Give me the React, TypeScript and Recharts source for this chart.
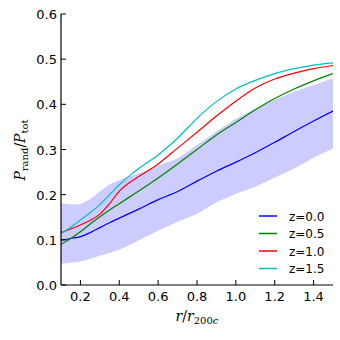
import { Area, ComposedChart, Line, XAxis, YAxis } from 'recharts';

// radius in units of r200c
const radii = [0.1, 0.15, 0.2, 0.25, 0.3, 0.35, 0.4, 0.45, 0.5, 0.6, 0.7, 0.8, 0.9, 1.0, 1.1, 1.2, 1.3, 1.4, 1.5];

const z00 = [0.099, 0.103, 0.107, 0.116, 0.127, 0.138, 0.148, 0.158, 0.168, 0.189, 0.207, 0.23, 0.252, 0.272, 0.293, 0.316, 0.34, 0.363, 0.385];
const z05 = [0.09, 0.103, 0.118, 0.135, 0.151, 0.166, 0.18, 0.194, 0.208, 0.237, 0.268, 0.3, 0.332, 0.36, 0.388, 0.413, 0.434, 0.452, 0.468];
const z10 = [0.116, 0.124, 0.133, 0.143, 0.157, 0.18, 0.208, 0.226, 0.24, 0.268, 0.303, 0.338, 0.374, 0.407, 0.436, 0.456, 0.469, 0.479, 0.486];
const z15 = [0.114, 0.128, 0.144, 0.16, 0.178, 0.2, 0.222, 0.241, 0.258, 0.288, 0.325, 0.369, 0.406, 0.434, 0.453, 0.468, 0.479, 0.487, 0.492];

// scatter band of the z=0 sample
const bandLow = [0.047, 0.049, 0.052, 0.058, 0.065, 0.071, 0.078, 0.088, 0.099, 0.12, 0.14, 0.157, 0.183, 0.202, 0.217, 0.238, 0.258, 0.282, 0.302];
const bandHigh = [0.181, 0.178, 0.179, 0.19, 0.207, 0.223, 0.232, 0.24, 0.247, 0.264, 0.28, 0.31, 0.34, 0.368, 0.39, 0.41, 0.428, 0.443, 0.458];

const xTicks = [0.2, 0.4, 0.6, 0.8, 1.0, 1.2, 1.4];
const yTicks = [0.0, 0.1, 0.2, 0.3, 0.4, 0.5, 0.6];

const series = [
  { key: 'z00', label: 'z=0.0', color: '#0000ff' },
  { key: 'z05', label: 'z=0.5', color: '#008000' },
  { key: 'z10', label: 'z=1.0', color: '#ff0000' },
  { key: 'z15', label: 'z=1.5', color: '#00bfbf' },
];

const data = radii.map((r, i) => ({
  r,
  z00: z00[i],
  z05: z05[i],
  z10: z10[i],
  z15: z15[i],
  band: [bandLow[i], bandHigh[i]],
}));

const sans = '"DejaVu Sans", sans-serif';
const serif = '"DejaVu Serif", serif';
const tickLen = 5;

const BottomTick = ({ x, y, payload }: any) => (
  <g>
    <line x1={x} x2={x} y1={y} y2={y - tickLen} stroke="#000" />
    <text x={x} y={y + 16} textAnchor="middle" fontSize={13} fontFamily={sans} fill="#000">
      {payload.value.toFixed(1)}
    </text>
  </g>
);

const TopTick = ({ x, y }: any) => <line x1={x} x2={x} y1={y} y2={y + tickLen} stroke="#000" />;

const LeftTick = ({ x, y, payload }: any) => (
  <g>
    <line x1={x} x2={x + tickLen} y1={y} y2={y} stroke="#000" />
    <text x={x - 4} y={y + 5} textAnchor="end" fontSize={13} fontFamily={sans} fill="#000">
      {payload.value.toFixed(1)}
    </text>
  </g>
);

const RightTick = ({ x, y }: any) => <line x1={x} x2={x - tickLen} y1={y} y2={y} stroke="#000" />;

const XLabel = () => (
  <text x={197} y={321} textAnchor="middle" fontSize={14} fontFamily={serif} fill="#000">
    <tspan fontStyle="italic">r</tspan>
    <tspan>/</tspan>
    <tspan fontStyle="italic">r</tspan>
    <tspan fontSize={10} dy={3}>200</tspan>
    <tspan fontSize={10} fontStyle="italic">c</tspan>
  </text>
);

const YLabel = () => (
  <text
    x={25}
    y={150}
    textAnchor="middle"
    fontSize={14}
    fontFamily={serif}
    fill="#000"
    transform="rotate(-90, 25, 150)"
  >
    <tspan fontStyle="italic">P</tspan>
    <tspan fontSize={10} dy={3}>rand</tspan>
    <tspan dy={-3}>/</tspan>
    <tspan fontStyle="italic">P</tspan>
    <tspan fontSize={10} dy={3}>tot</tspan>
  </text>
);

function App() {
  return (
    <div style={{ position: 'absolute', left: 0, top: 0, width: 340, height: 340, background: '#fff' }}>
      <ComposedChart width={340} height={340} data={data} margin={{ top: 14, right: 7, bottom: 0, left: 0 }}>
        <XAxis
          dataKey="r"
          type="number"
          domain={[0.1, 1.5]}
          ticks={xTicks}
          interval={0}
          height={55}
          allowDataOverflow
          tickSize={0}
          tickMargin={0}
          tickLine={false}
          tick={BottomTick}
          axisLine={{ stroke: '#000', strokeWidth: 1.2 }}
          label={XLabel}
        />
        <XAxis
          xAxisId="top"
          orientation="top"
          type="number"
          domain={[0.1, 1.5]}
          ticks={xTicks}
          interval={0}
          height={0}
          tickSize={0}
          tickMargin={0}
          tickLine={false}
          tick={TopTick}
          axisLine={{ stroke: '#000', strokeWidth: 1.2 }}
        />
        <YAxis
          type="number"
          domain={[0, 0.6]}
          ticks={yTicks}
          interval={0}
          width={61}
          allowDataOverflow
          tickSize={0}
          tickMargin={0}
          tickLine={false}
          tick={LeftTick}
          axisLine={{ stroke: '#000', strokeWidth: 1.2 }}
          label={YLabel}
        />
        <YAxis
          yAxisId="right"
          orientation="right"
          type="number"
          domain={[0, 0.6]}
          ticks={yTicks}
          interval={0}
          width={0}
          tickSize={0}
          tickMargin={0}
          tickLine={false}
          tick={RightTick}
          axisLine={{ stroke: '#000', strokeWidth: 1.2 }}
        />
        <Area
          dataKey="band"
          type="linear"
          fill="#ccccff"
          fillOpacity={1}
          stroke="none"
          isAnimationActive={false}
        />
        {series.map((s) => (
          <Line
            key={s.key}
            dataKey={s.key}
            type="monotone"
            stroke={s.color}
            strokeWidth={1.2}
            dot={false}
            activeDot={false}
            isAnimationActive={false}
          />
        ))}
      </ComposedChart>
      <svg width={80} height={75} style={{ position: 'absolute', left: 255, top: 205 }}>
        {series.map((s, i) => (
          <g key={s.key}>
            <line x1={4} x2={22} y1={11 + i * 17.5} y2={11 + i * 17.5} stroke={s.color} strokeWidth={1.5} />
            <text x={34} y={15.5 + i * 17.5} fontSize={12} fontFamily={sans} fill="#000">
              {s.label}
            </text>
          </g>
        ))}
      </svg>
    </div>
  );
}

export default App;
